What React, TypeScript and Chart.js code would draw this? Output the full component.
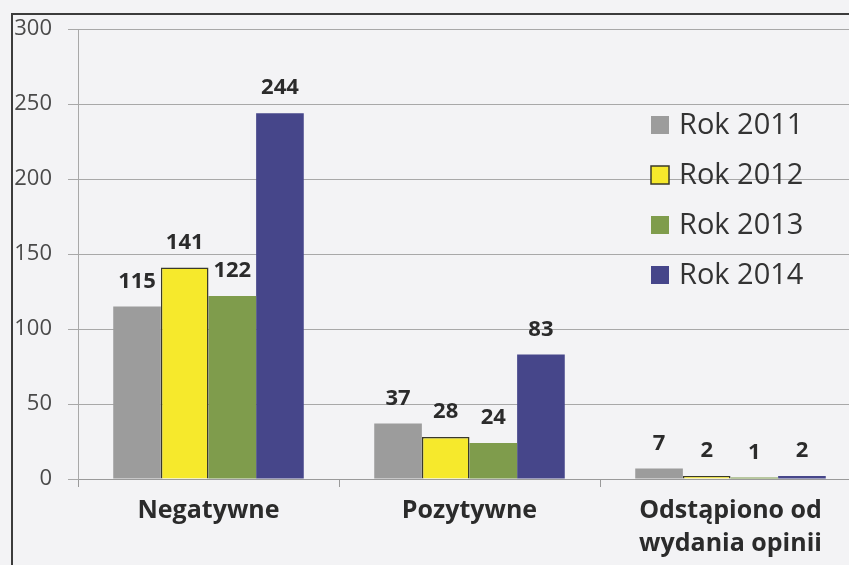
import { useEffect, useRef } from "react";
import { Chart, registerables } from "chart.js";
Chart.register(...registerables);

const categories: (string | string[])[] = ["Negatywne", "Pozytywne", ["Odstąpiono od", "wydania opinii"]];
const seriesLabels = ["Rok 2011", "Rok 2012", "Rok 2013", "Rok 2014"];
const rok2011 = [115, 37, 7];
const rok2012 = [141, 28, 2];
const rok2013 = [122, 24, 1];
const rok2014 = [244, 83, 2];
const yMin = 0;
const yMax = 300;
const yStep = 50;

const colors = ["#9c9c9c", "#f6e92c", "#7f9c4c", "#46468a"];
const borders = ["#9c9c9c", "#3a3a2a", "#7f9c4c", "#46468a"];
const FONT = "'Open Sans', sans-serif";
const BG = "#f3f3f5";

const framePlugin = {
  id: "frame",
  beforeDraw(chart: any) {
    const ctx = chart.ctx;
    ctx.save();
    ctx.fillStyle = BG;
    ctx.fillRect(0, 0, chart.width, chart.height);
    ctx.strokeStyle = "#3c3c3c";
    ctx.lineWidth = 2;
    ctx.beginPath();
    ctx.moveTo(12, chart.height);
    ctx.lineTo(12, 14);
    ctx.lineTo(chart.width, 14);
    ctx.stroke();
    ctx.restore();
  },
};

const valueLabelPlugin = {
  id: "valueLabels",
  afterDatasetsDraw(chart: any) {
    const ctx = chart.ctx;
    ctx.save();
    ctx.fillStyle = "#2b2b2b";
    ctx.textAlign = "center";
    ctx.textBaseline = "middle";
    ctx.font = `bold 22px ${FONT}`;
    chart.data.datasets.forEach((ds: any, i: number) => {
      const meta = chart.getDatasetMeta(i);
      meta.data.forEach((el: any, j: number) => {
        ctx.fillText(String(ds.data[j]), el.x, el.y - 25);
      });
    });
    ctx.restore();
  },
};

const legendPlugin = {
  id: "customLegend",
  afterDraw(chart: any) {
    const ctx = chart.ctx;
    ctx.save();
    ctx.font = `29px ${FONT}`;
    ctx.textBaseline = "middle";
    ctx.textAlign = "left";
    chart.data.datasets.forEach((ds: any, i: number) => {
      const cy = 125 + i * 50;
      ctx.fillStyle = ds.backgroundColor;
      ctx.fillRect(651, cy - 9, 18, 18);
      if (ds.borderWidth > 0) {
        ctx.strokeStyle = ds.borderColor;
        ctx.lineWidth = 1.5;
        ctx.strokeRect(651, cy - 9, 18, 18);
      }
      ctx.fillStyle = "#333333";
      ctx.fillText(ds.label, 679, cy + 1);
    });
    ctx.restore();
  },
};

export default function App() {
  const ref = useRef<HTMLCanvasElement | null>(null);
  useEffect(() => {
    document.body.style.overflow = "hidden";
    document.body.style.background = BG;
    const series = [rok2011, rok2012, rok2013, rok2014];
    const chart = new Chart(ref.current!, {
      type: "bar",
      data: {
        labels: categories,
        datasets: series.map((d, i) => ({
          label: seriesLabels[i],
          data: d,
          backgroundColor: colors[i],
          borderColor: borders[i],
          borderWidth: i === 1 ? 1.5 : 0,
          barPercentage: 1,
          categoryPercentage: 0.73,
        })),
      },
      options: {
        animation: false,
        responsive: false,
        devicePixelRatio: 1,
        layout: { padding: { top: 29, right: 19, bottom: 0, left: 0 } },
        plugins: { legend: { display: false }, tooltip: { enabled: false } },
        scales: {
          x: {
            afterFit(scale: any) {
              scale.height = 86;
            },
            grid: {
              display: true,
              drawOnChartArea: false,
              drawTicks: true,
              tickLength: 8,
              color: "#9a9a9a",
              offset: true,
            },
            border: { display: true, color: "#9a9a9a" },
            ticks: {
              color: "#2b2b2b",
              font: { family: FONT, size: 25, weight: "bold", lineHeight: 1.3 },
              padding: 8,
              maxRotation: 0,
            },
          },
          y: {
            min: yMin,
            max: yMax,
            afterFit(scale: any) {
              scale.width = 78;
            },
            grid: { color: "#a8a8a8", tickLength: 10, lineWidth: 1 },
            border: { display: true, color: "#a8a8a8" },
            ticks: {
              stepSize: yStep,
              color: "#4a4a4a",
              padding: 16,
              font: { family: FONT, size: 22 },
            },
          },
        },
      },
      plugins: [framePlugin, valueLabelPlugin, legendPlugin],
    } as any);
    return () => chart.destroy();
  }, []);
  return (
    <div style={{ position: "absolute", left: 0, top: 0, width: 880, height: 565, overflow: "hidden" }}>
      <canvas ref={ref} width={880} height={565} style={{ display: "block", width: 880, height: 565 }} />
    </div>
  );
}
